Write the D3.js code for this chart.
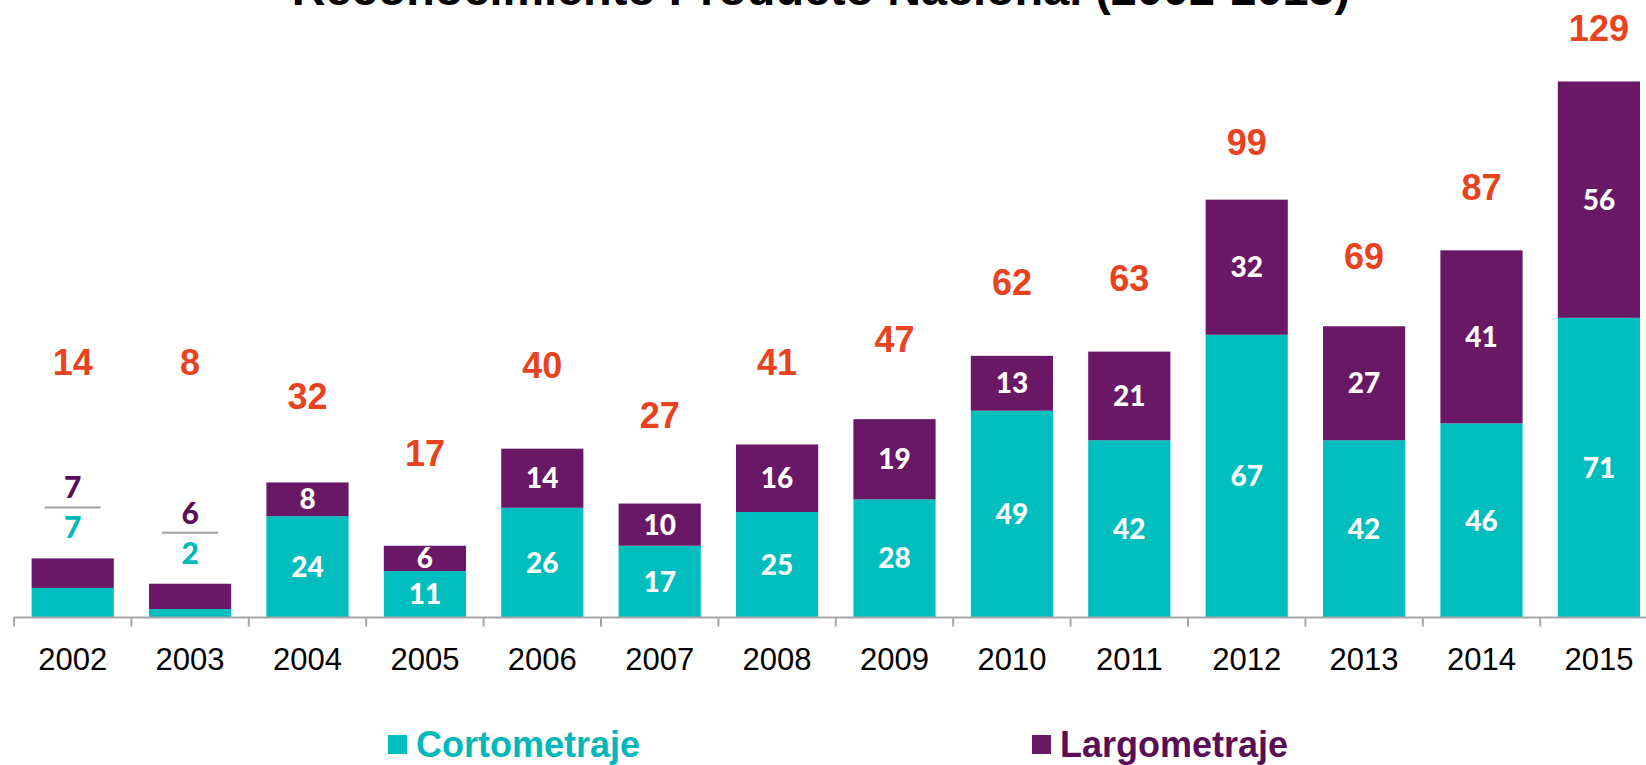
<!DOCTYPE html>
<html>
<head>
<meta charset="utf-8">
<script src="https://cdn.jsdelivr.net/npm/d3@7"></script>
<style>
  html, body { margin: 0; padding: 0; background: #fff; overflow: hidden; }
  svg { display: block; }
</style>
</head>
<body>
<svg id="chart" width="1646" height="765"></svg>
<script>
const title = "Reconocimiento Producto Nacional (2002-2015)";
const years = ["2002","2003","2004","2005","2006","2007","2008","2009","2010","2011","2012","2013","2014","2015"];
const cortometraje = [7, 2, 24, 11, 26, 17, 25, 28, 49, 42, 67, 42, 46, 71];
const largometraje = [7, 6, 8, 6, 14, 10, 16, 19, 13, 21, 32, 27, 41, 56];
const totals = [14, 8, 32, 17, 40, 27, 41, 47, 62, 63, 99, 69, 87, 129];
const seriesNames = ["Cortometraje", "Largometraje"];

const W = 1646, H = 765;
const CYAN = "#00BEBE", PURPLE = "#691865", RED = "#E8421E";
const CYAN_TXT = "#00B8B8", PURPLE_TXT = "#5A0E55";

const svg = d3.select("#chart");

const rows = years.map((y, i) => ({ year: y, Cortometraje: cortometraje[i], Largometraje: largometraje[i], total: totals[i] }));
const stack = d3.stack().keys(seriesNames)(rows);

const x = d3.scaleBand().domain(years).range([14, 14 + 14 * 117.4]).paddingInner(0.3).paddingOuter(0.15);
const baseY = 617.5;
const y = d3.scaleLinear().domain([0, 127]).range([baseY, 81.5]);
// secondary scale used for placing the total labels
const yTot = d3.scaleLinear().domain([0, 129]).range([517, 28.5]);

const color = d3.scaleOrdinal().domain(seriesNames).range([CYAN, PURPLE]);

// Title
svg.append("text")
  .attr("x", 821).attr("y", 5)
  .attr("text-anchor", "middle")
  .style("font-family", "Arial, 'Liberation Sans', sans-serif")
  .style("font-weight", "bold")
  .style("font-size", "46.8px")
  .attr("fill", "#000")
  .text(title);

// Bars
const g = svg.append("g");
g.selectAll("g.series").data(stack).join("g")
  .attr("class", "series")
  .attr("fill", d => color(d.key))
  .selectAll("rect").data(d => d).join("rect")
  .attr("x", d => x(d.data.year))
  .attr("width", x.bandwidth())
  .attr("y", d => y(d[1]))
  .attr("height", d => y(d[0]) - y(d[1]));

// Axis
const axis = d3.axisBottom(x).tickSize(0).tickFormat(d => d);
const axG = svg.append("g").attr("transform", `translate(0,${baseY})`).call(axis);
axG.select(".domain").attr("stroke", "#A6A6A6").attr("stroke-width", 2)
  .attr("d", `M${x.range()[0]},0H${W + 20}`);
axG.selectAll(".tick text")
  .attr("y", 52).attr("dy", null)
  .style("font-family", "Arial, 'Liberation Sans', sans-serif")
  .style("font-size", "31px")
  .attr("fill", "#000");
// boundary tick marks
const step = x.step();
const bounds = d3.range(years.length + 1).map(i => x.range()[0] + i * step);
axG.selectAll("line.bound").data(bounds).join("line")
  .attr("class", "bound")
  .attr("x1", d => d).attr("x2", d => d)
  .attr("y1", 0).attr("y2", 9)
  .attr("stroke", "#A6A6A6").attr("stroke-width", 2);

// Labels
const innerFont = "Lato, 'Open Sans', sans-serif";
const F_IN = 28;
const outside = d => d.Cortometraje < 8;
const cx = d => x(d.year) + x.bandwidth() / 2;

rows.forEach(d => {
  const top = y(d.Cortometraje + d.Largometraje);
  const mid = y(d.Cortometraje);
  if (!outside(d)) {
    [[ (baseY + mid) / 2, d.Cortometraje ], [ (mid + top) / 2, d.Largometraje ]].forEach(([cy, v]) => {
      svg.append("text")
        .attr("x", cx(d)).attr("y", cy + 0.36 * F_IN)
        .attr("text-anchor", "middle")
        .style("font-family", innerFont).style("font-weight", 900)
        .style("font-size", F_IN + "px")
        .attr("fill", "#fff")
        .text(v);
    });
  } else {
    svg.append("text")
      .attr("x", cx(d)).attr("y", top - 30 + 0.36 * F_IN)
      .attr("text-anchor", "middle")
      .style("font-family", innerFont).style("font-weight", 900)
      .style("font-size", "30px")
      .attr("fill", CYAN_TXT).text(d.Cortometraje);
    svg.append("line")
      .attr("x1", cx(d) - 28).attr("x2", cx(d) + 28)
      .attr("y1", top - 51).attr("y2", top - 51)
      .attr("stroke", "#A0A0A0").attr("stroke-width", 2);
    svg.append("text")
      .attr("x", cx(d)).attr("y", top - 70 + 0.36 * F_IN)
      .attr("text-anchor", "middle")
      .style("font-family", innerFont).style("font-weight", 900)
      .style("font-size", "30px")
      .attr("fill", PURPLE_TXT).text(d.Largometraje);
  }
  const F_T = 36;
  const ty = outside(d) ? 362 : yTot(d.total);
  svg.append("text")
    .attr("x", cx(d)).attr("y", ty + 0.358 * F_T)
    .attr("text-anchor", "middle")
    .style("font-family", "Arial, 'Liberation Sans', sans-serif")
    .style("font-weight", "bold")
    .style("font-size", F_T + "px")
    .attr("fill", RED)
    .text(d.total);
});

// Legend
const legendX = [388, 1032];
const legendTxt = [CYAN_TXT, PURPLE_TXT];
seriesNames.forEach((s, i) => {
  svg.append("rect")
    .attr("x", legendX[i]).attr("y", 735)
    .attr("width", 19).attr("height", 19)
    .attr("fill", color(s));
  svg.append("text")
    .attr("x", legendX[i] + 28).attr("y", 757)
    .style("font-family", "Arial, 'Liberation Sans', sans-serif")
    .style("font-weight", "bold")
    .style("font-size", "36px")
    .attr("fill", legendTxt[i])
    .text(s);
});
</script>
</body>
</html>
